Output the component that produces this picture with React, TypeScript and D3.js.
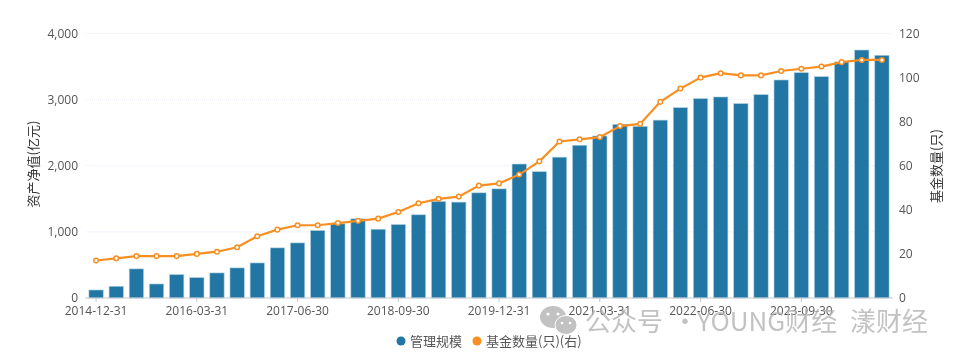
import React from "react";
import * as d3 from "d3";

const quarterLabels = ["2014-12-31","2016-03-31","2017-06-30","2018-09-30","2019-12-31","2021-03-31","2022-06-30","2023-09-30"];
const labelEvery = 5;
const aum = [121,177,440,212,354,308,379,455,530,758,833,1020,1121,1197,1040,1111,1258,1460,1450,1590,1650,2026,1910,2130,2310,2450,2625,2595,2690,2878,3015,3040,2940,3075,3297,3407,3347,3570,3750,3670];
const funds = [17,18,19,19,19,20,21,23,28,31,33,33,34,35,36,39,43,45,46,51,52,56,62,71,72,73,78,79,89,95,100,102,101,101,103,104,105,107,108,108];
const leftTicks = [0,1000,2000,3000,4000];
const rightTicks = [0,20,40,60,80,100,120];

const W = 960, H = 360;
const m = { l: 86, r: 892, t: 33.5, b: 298 };
const BLUE = "#2276a3", ORANGE = "#f98e21", TXT = "#555";
const FONT = "'Open Sans','Noto Sans CJK SC','Noto Sans',sans-serif";
const CJK = "'Noto Sans CJK SC','Noto Sans',sans-serif";

export default function App() {
  const idx = d3.range(aum.length);
  const x = d3.scaleBand<number>().domain(idx).range([m.l, m.r]).paddingInner(0.29).paddingOuter(0.145);
  const yL = d3.scaleLinear().domain([0, 4000]).range([m.b, m.t]);
  const yR = d3.scaleLinear().domain([0, 120]).range([m.b, m.t]);
  const cx = (i: number) => (x(i) as number) + x.bandwidth() / 2;
  const line = d3.line<number>().x((_, i) => cx(i)).y((d) => yR(d));
  const fmt = d3.format(",");
  return (
    <svg width={W} height={H} viewBox={`0 0 ${W} ${H}`} style={{ position: "absolute", left: 0, top: 0, fontFamily: FONT, filter: "blur(0.35px)" }}>
      <rect width={W} height={H} fill="#fff" />
      {leftTicks.slice(1).map((t) => (
        <line key={t} x1={m.l} x2={m.r} y1={yL(t)} y2={yL(t)} stroke="#e9ebf6" strokeDasharray="1 1" />
      ))}
      {idx.map((i) => (
        <rect key={i} x={x(i)} y={yL(aum[i])} width={x.bandwidth()} height={m.b - yL(aum[i])} fill={BLUE} stroke="#a9cfe0" strokeWidth={0.6} />
      ))}
      <line x1={m.l - 1} x2={m.r + 1} y1={m.b} y2={m.b} stroke="#c4c7cf" strokeWidth={1} />
      {quarterLabels.map((l, k) => {
        const px = cx(k * labelEvery);
        return (
          <g key={l}>
            <line x1={px} x2={px} y1={m.b} y2={m.b + 4} stroke="#c4c7cf" />
            <text x={px} y={m.b + 17} textAnchor="middle" fontSize={12} fill={TXT}>{l}</text>
          </g>
        );
      })}
      {leftTicks.map((t) => (
        <text key={t} x={78} y={yL(t) + 4} textAnchor="end" fontSize={12} fill={TXT}>{fmt(t)}</text>
      ))}
      {rightTicks.map((t) => (
        <text key={t} x={899} y={yR(t) + 4} fontSize={12} fill={TXT}>{t}</text>
      ))}
      <text transform="translate(38,164) rotate(-90)" textAnchor="middle" fontSize={13} fill="#333" fontFamily={CJK}>资产净值(亿元)</text>
      <text transform="translate(941,166) rotate(-90)" textAnchor="middle" fontSize={13} fill="#333" fontFamily={CJK}>基金数量(只)</text>
      <path d={line(funds) as string} fill="none" stroke={ORANGE} strokeWidth={2.2} />
      {idx.map((i) => (
        <circle key={i} cx={cx(i)} cy={yR(funds[i])} r={2.3} fill="#fff" stroke={ORANGE} strokeWidth={1.5} />
      ))}
      <circle cx={401} cy={341} r={4.5} fill={BLUE} />
      <text x={410} y={346} fontSize={13} fill={TXT} fontFamily={CJK}>管理规模</text>
      <circle cx={477} cy={341} r={4.5} fill={ORANGE} />
      <text x={486} y={346} fontSize={13} fill={TXT} fontFamily={CJK}>基金数量(只)(右)</text>
      <g opacity={0.8}>
        <ellipse cx={553} cy={317} rx={13} ry={11} fill="#b4b4b4" />
        <ellipse cx={566} cy={325} rx={11} ry={9.5} fill="#b4b4b4" stroke="#fff" strokeWidth={1} />
        <circle cx={548} cy={314} r={1.6} fill="#fff" />
        <circle cx={558} cy={314} r={1.6} fill="#fff" />
        <circle cx={562} cy={323} r={1.3} fill="#fff" />
        <circle cx={570} cy={323} r={1.3} fill="#fff" />
        <text y={331} fontSize={26} fill="#b4b4b4" fontFamily={CJK}>
          <tspan x={585}>公众号</tspan>
          <tspan x={672}>·</tspan>
          <tspan x={697}>YOUNG财经</tspan>
          <tspan x={850}>漾财经</tspan>
        </text>
      </g>
    </svg>
  );
}
